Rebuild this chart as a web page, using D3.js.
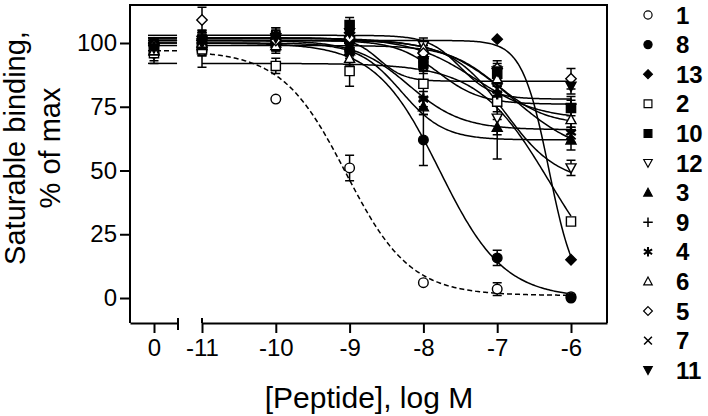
<!DOCTYPE html>
<html><head><meta charset="utf-8">
<script src="https://cdn.jsdelivr.net/npm/d3@7"></script>
<style>body{margin:0;background:#fff}svg{display:block;font-family:"Liberation Sans",Arial,sans-serif}</style>
</head><body><svg id="c" width="708" height="416"></svg>
<script>
// ---- data ----
const xLabels = ["0", "-11", "-10", "-9", "-8", "-7", "-6"];
const logConc = [-11, -10, -9, -8, -7, -6];
const yTicks = [0, 25, 50, 75, 100];
const seriesNames = ["1", "8", "13", "2", "10", "12", "3", "9", "4", "6", "5", "7", "11"];
const markerKinds = ["circleOpen", "circleFilled", "diamondFilled", "squareOpen", "squareFilled", "triDownOpen",
  "triUpFilled", "plus", "asterisk", "triUpOpen", "diamondOpen", "times", "triDownFilled"];
// values: control ("0"), -11, -10, -9, -8, -7, -6
const v1  = [96, 97, 78, 51, 6, 3.5, 0.5];
const v8  = [99, 98, 100, 97, 62, 15.7, 0];
const v13 = [100, 101, 103, 104, 96, 101.5, 15];
const v2  = [96, 97.5, 91, 89, 84, 77, 30];
const v10 = [99, 100, 102, 107, 92, 88, 74.5];
const v12 = [98, 101, 100, 101, 99, 70.5, 51];
const v3  = [97, 99, 100, 97, 75, 67, 62];
const v9  = [100, 100, 101, 100, 94, 84, 76];
const v4  = [99, 102, 101, 99, 78, 80, 65];
const v6  = [97, 100, 99, 94, 98, 86, 70];
const v5  = [99, 109, 101, 102, 96, 90, 86];
const v7  = [100, 101, 103, 98, 91, 82, 64];
const v11 = [98, 100, 102, 104, 93, 89, 83];
// error (SEM)
const e1  = [3, 2, 0, 5, 0, 2.5, 0];
const e8  = [2, 3, 3, 4, 10, 3, 0];
const e13 = [2, 4, 3, 3, 3, 0, 0];
const e2  = [4, 7, 3, 6, 5, 4, 0];
const e10 = [2, 3, 3, 3, 3, 3, 3];
const e12 = [2, 3, 3, 3, 3, 16, 3];
const e3  = [2, 3, 3, 3, 3, 3, 4];
const e9  = [2, 3, 3, 3, 3, 3, 3];
const e4  = [2, 3, 3, 3, 3, 3, 4];
const e6  = [2, 3, 3, 3, 3, 3, 3];
const e5  = [2, 5, 3, 3, 3, 3, 4];
const e7  = [2, 3, 3, 3, 3, 3, 3];
const e11 = [2, 3, 3, 3, 3, 3, 3];
// fitted curves: [top, bottom, logIC50, hill]
const f1  = [97, 1, -9.05, 1.0];
const f8  = [100, 0, -7.78, 1.0];
const f13 = [101, 0, -6.3, 2.4];
const f2  = [92, 0, -6.3, 0.9];
const f10 = [102, 70, -7.3, 1.0];
const f12 = [101, 45, -6.9, 1.2];
const f3  = [100, 62, -8.3, 1.5];
const f9  = [101, 76, -7.8, 1.5];
const f4  = [101, 66, -8.2, 1.2];
const f6  = [99, 68, -7.0, 1.3];
const f5  = [102, 85, -8.6, 2.5];
const f7  = [102, 55, -6.8, 0.9];
const f11 = [103, 78, -7.5, 2.0];

const values = [v1, v8, v13, v2, v10, v12, v3, v9, v4, v6, v5, v7, v11];
const errors = [e1, e8, e13, e2, e10, e12, e3, e9, e4, e6, e5, e7, e11];
const fits = [f1, f8, f13, f2, f10, f12, f3, f9, f4, f6, f5, f7, f11];

// ---- layout ----
const svg = d3.select("#c");
const L = 130, T = 5, R = 607, B = 323;
const y = d3.scaleLinear().domain([-9.8, 114.9]).range([B, T]);
const xR = d3.scaleLinear().domain([-11, -6]).range([202, 571]);
const xC = d3.scaleLinear().domain([-1, 1]).range([130, 178]);
const sw = 2;

function fitY(f, x) { return f[1] + (f[0] - f[1]) / (1 + Math.pow(10, (x - f[2]) * f[3])); }

// frame (left/top/right)
svg.append("path").attr("d", `M${L},${B}V${T}H${R}V${B}`).attr("fill", "none").attr("stroke", "#000").attr("stroke-width", sw);

// y axis
const ya = svg.append("g").attr("transform", `translate(${L},0)`)
  .call(d3.axisLeft(y).tickValues(yTicks).tickSize(10).tickSizeOuter(0).tickPadding(3));
ya.select(".domain").remove();
ya.selectAll("line").attr("stroke-width", sw);
ya.selectAll("text").attr("font-size", 24).attr("font-family", "Liberation Sans, Arial, sans-serif").attr("fill", "#000");

// x axis: control segment
const xa1 = svg.append("g").attr("transform", `translate(0,${B})`)
  .call(d3.axisBottom(xC).tickValues([0]).tickFormat(() => xLabels[0]).tickSize(10).tickSizeOuter(0).tickPadding(6));
// x axis: log segment
const xRfull = d3.scaleLinear().domain([-11, xR.invert(R)]).range([202, R]);
const xa2 = svg.append("g").attr("transform", `translate(0,${B})`)
  .call(d3.axisBottom(xRfull).tickValues(logConc).tickFormat((d, i) => xLabels[i + 1]).tickSize(10).tickSizeOuter(0).tickPadding(6));
[xa1, xa2].forEach(g => {
  g.select(".domain").attr("stroke-width", sw);
  g.selectAll("line").attr("stroke-width", sw);
  g.selectAll("text").attr("font-size", 24).attr("font-family", "Liberation Sans, Arial, sans-serif").attr("fill", "#000");
});
// break caps
svg.append("line").attr("x1", 178).attr("x2", 178).attr("y1", B - 5).attr("y2", B + 7).attr("stroke", "#000").attr("stroke-width", sw);
svg.append("line").attr("x1", 202).attr("x2", 202).attr("y1", B - 5).attr("y2", B).attr("stroke", "#000").attr("stroke-width", sw);

// titles
svg.append("text").attr("x", 369).attr("y", 408).attr("text-anchor", "middle").attr("font-size", 30).text("[Peptide], log M");
const yt = svg.append("g").attr("transform", "translate(0,148) rotate(-90)");
yt.append("text").attr("x", 0).attr("y", 25).attr("text-anchor", "middle").attr("font-size", 29).text("Saturable binding,");
yt.append("text").attr("x", 0).attr("y", 60).attr("text-anchor", "middle").attr("font-size", 29).text("% of max");

// curves
const line = d3.line().x(d => d[0]).y(d => d[1]);
const plot = svg.append("g");
fits.forEach((f, i) => {
  const pts = d3.range(-11, -5.999, 0.02).map(x => [xR(x), y(fitY(f, x))]);
  const dash = i === 0 ? "5,3" : null;
  plot.append("path").attr("d", line(pts)).attr("fill", "none").attr("stroke", "#000").attr("stroke-width", 1.5).attr("stroke-dasharray", dash);
  const yc = y(fitY(f, -12.5));
  plot.append("path").attr("d", line([[xC(-0.25), yc], [xC(0.96), yc]])).attr("fill", "none").attr("stroke", "#000").attr("stroke-width", 1.5).attr("stroke-dasharray", dash);
});

// symbols
function markerPath(kind) {
  const r = 4.6;
  switch (kind) {
    case "circleOpen": case "circleFilled": return d3.symbol(d3.symbolCircle, Math.PI * 4.8 * 4.8)();
    case "squareOpen": case "squareFilled": return `M${-r},${-r}H${r}V${r}H${-r}Z`;
    case "diamondOpen": case "diamondFilled": return `M0,${-r - 0.6}L${r + 0.6},0L0,${r + 0.6}L${-r - 0.6},0Z`;
    case "triUpOpen": case "triUpFilled": return `M0,${-r - 0.5}L${r + 0.4},${r - 0.5}L${-r - 0.4},${r - 0.5}Z`;
    case "triDownOpen": case "triDownFilled": return `M0,${r + 0.5}L${r + 0.4},${-r + 0.5}L${-r - 0.4},${-r + 0.5}Z`;
    case "plus": return `M${-r - 1},0H${r + 1}M0,${-r - 1}V${r + 1}`;
    case "times": return `M${-r},${-r}L${r},${r}M${r},${-r}L${-r},${r}`;
    case "asterisk": {
      const a = r + 1;
      let p = `M0,${-a}V${a}`;
      [30, 150].forEach(g => { const c = Math.cos(g * Math.PI / 180) * a, s = Math.sin(g * Math.PI / 180) * a; p += `M${-c},${-s}L${c},${s}`; });
      return p;
    }
  }
}
function styleMarker(sel, kind) {
  const open = /Open/.test(kind), stroked = ["plus", "times", "asterisk"].includes(kind);
  sel.attr("d", markerPath(kind))
    .attr("fill", stroked ? "none" : (open ? "#fff" : "#000"))
    .attr("stroke", "#000")
    .attr("stroke-width", kind === "asterisk" ? 2.4 : (stroked ? 1.8 : 1.4));
}
const xPos = i => i === 0 ? xC(0) : xR(logConc[i - 1]);

// error bars
values.forEach((vals, si) => {
  vals.forEach((v, i) => {
    const e = errors[si][i];
    if (!e) return;
    const x = xPos(i), y1 = y(v + e), y2 = y(v - e), w = 4.5;
    plot.append("path").attr("d", `M${x},${y1}V${y2}M${x - w},${y1}H${x + w}M${x - w},${y2}H${x + w}`)
      .attr("stroke", "#000").attr("stroke-width", 1.5).attr("fill", "none");
  });
});
// markers
values.forEach((vals, si) => {
  vals.forEach((v, i) => {
    plot.append("path").attr("transform", `translate(${xPos(i)},${y(v)})`).call(styleMarker, markerKinds[si]);
  });
});

// legend
const leg = svg.append("g");
seriesNames.forEach((n, i) => {
  const yy = 15 + i * 29.6;
  leg.append("path").attr("transform", `translate(648,${yy}) scale(0.85)`).call(styleMarker, markerKinds[i]);
  leg.append("text").attr("x", 676).attr("y", yy + 8.5).attr("font-size", 24).attr("font-weight", "bold").text(n);
});
</script></body></html>
